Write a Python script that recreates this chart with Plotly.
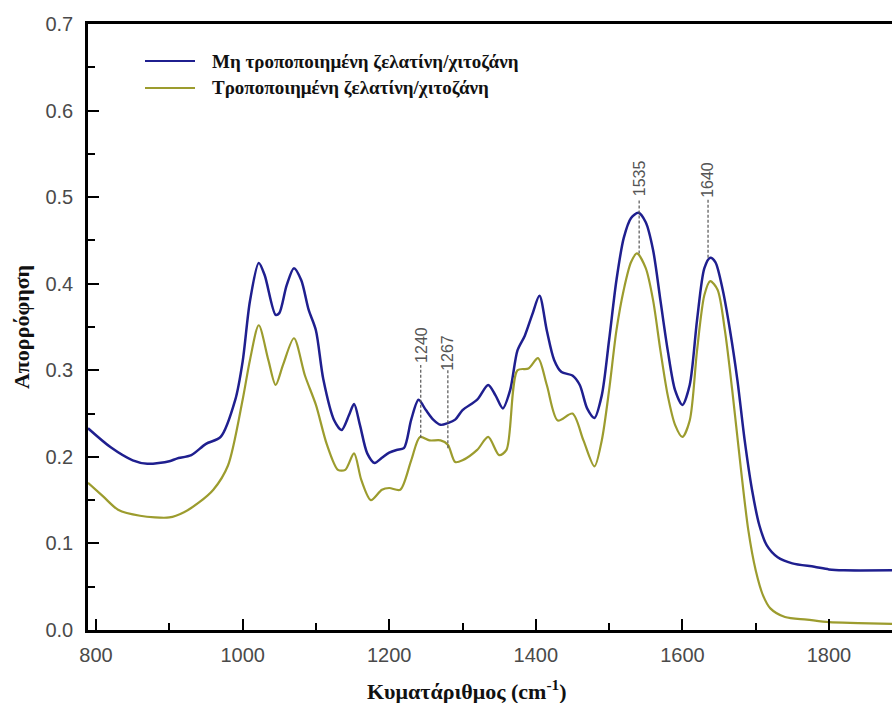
import plotly.graph_objects as go

# Wavenumber (cm-1) and absorbance
x_blue = [789, 820, 850, 870, 900, 910, 930, 950, 970, 990, 1000, 1010, 1022, 1030, 1045, 1050,
          1060, 1070, 1080, 1090, 1100, 1110, 1125, 1135, 1145, 1152, 1160, 1170, 1180, 1190,
          1200, 1210, 1220, 1230, 1240, 1250, 1260, 1270, 1280, 1290, 1300, 1320, 1335, 1345,
          1355, 1365, 1375, 1385, 1395, 1405, 1415, 1425, 1435, 1450, 1460, 1470, 1480, 1490,
          1500, 1510, 1520, 1530, 1540, 1550, 1560, 1570, 1580, 1590, 1600, 1610, 1620, 1630,
          1638, 1645, 1655, 1665, 1675, 1685, 1695, 1705, 1715, 1730, 1750, 1780, 1800, 1820, 1886]
y_blue = [0.233, 0.211, 0.196, 0.192, 0.195, 0.198, 0.202, 0.215, 0.223, 0.266, 0.310, 0.380,
          0.424, 0.410, 0.364, 0.366, 0.398, 0.418, 0.404, 0.370, 0.346, 0.290, 0.242, 0.231,
          0.248, 0.261, 0.237, 0.204, 0.193, 0.199, 0.205, 0.208, 0.210, 0.243, 0.266, 0.254,
          0.243, 0.237, 0.239, 0.243, 0.254, 0.266, 0.283, 0.271, 0.256, 0.277, 0.323, 0.340,
          0.364, 0.386, 0.346, 0.312, 0.298, 0.294, 0.283, 0.256, 0.245, 0.271, 0.335, 0.404,
          0.453, 0.476, 0.482, 0.471, 0.439, 0.381, 0.323, 0.277, 0.260, 0.283, 0.358, 0.418,
          0.430, 0.425, 0.393, 0.346, 0.289, 0.219, 0.162, 0.121, 0.098, 0.084, 0.077, 0.073,
          0.070, 0.069, 0.069]

x_olive = [789, 810, 830, 860, 900, 920, 940, 960, 980, 1000, 1010, 1022, 1035, 1045, 1055, 1070,
           1085, 1100, 1115, 1130, 1140, 1152, 1162, 1175, 1190, 1200, 1215, 1230, 1242, 1255,
           1270, 1280, 1290, 1300, 1320, 1335, 1350, 1360, 1375, 1390, 1403, 1415, 1430, 1450,
           1465, 1480, 1490, 1500, 1510, 1520, 1530, 1538, 1550, 1560, 1570, 1580, 1590, 1600,
           1610, 1620, 1630, 1638, 1648, 1658, 1668, 1680, 1690, 1700, 1710, 1720, 1740, 1770,
           1800, 1840, 1886]
y_olive = [0.170, 0.154, 0.139, 0.132, 0.130, 0.136, 0.147, 0.162, 0.190, 0.266, 0.312, 0.352,
           0.312, 0.283, 0.306, 0.337, 0.294, 0.260, 0.214, 0.185, 0.185, 0.204, 0.173, 0.150,
           0.162, 0.164, 0.162, 0.196, 0.223, 0.219, 0.219, 0.214, 0.194, 0.196, 0.208, 0.223,
           0.202, 0.208, 0.300, 0.302, 0.314, 0.283, 0.242, 0.250, 0.219, 0.189, 0.219, 0.277,
           0.346, 0.393, 0.425, 0.435, 0.418, 0.381, 0.323, 0.271, 0.237, 0.223, 0.242, 0.323,
           0.387, 0.403, 0.393, 0.346, 0.277, 0.185, 0.115, 0.069, 0.040, 0.025, 0.015, 0.012,
           0.009, 0.008, 0.007]

# Peak markers: label, x position, line top, line bottom, label centre
peak_labels = ["1240", "1267", "1535", "1640"]
peak_x = [1243, 1280, 1541, 1635]
peak_top = [0.306, 0.300, 0.497, 0.497]
peak_bottom = [0.222, 0.210, 0.435, 0.430]
label_y = [0.329, 0.320, 0.522, 0.520]

series_names = ["Μη τροποποιημένη ζελατίνη/χιτοζάνη", "Τροποποιημένη ζελατίνη/χιτοζάνη"]
colors = ["#1f1f8f", "#9c9c2e"]

SERIF = "Liberation Serif, Times New Roman, serif"
SANS = "Liberation Sans, Arial, sans-serif"

fig = go.Figure()
fig.add_trace(go.Scatter(x=x_blue, y=y_blue, mode="lines", name=series_names[0], showlegend=False,
                         line=dict(color=colors[0], width=2.5, shape="spline", smoothing=0.8)))
fig.add_trace(go.Scatter(x=x_olive, y=y_olive, mode="lines", name=series_names[1], showlegend=False,
                         line=dict(color=colors[1], width=2.2, shape="spline", smoothing=0.8)))

for lab, px, t, b, ly in zip(peak_labels, peak_x, peak_top, peak_bottom, label_y):
    fig.add_trace(go.Scatter(x=[px, px], y=[b, t], mode="lines", showlegend=False,
                             hoverinfo="skip",
                             line=dict(color="#555555", width=1.2, dash="3px,2px")))
    fig.add_annotation(x=px, y=ly, text=lab, showarrow=False, textangle=-90,
                       font=dict(family=SANS, size=16, color="#555555"))

# Legend drawn as sample lines + text (paper coordinates)
plot_w, plot_h = 804, 606
legend_rows_px = [61, 88]
for name, col, ypx in zip(series_names, colors, legend_rows_px):
    yp = (630 - ypx) / plot_h
    fig.add_shape(type="line", xref="paper", yref="paper",
                  x0=(145 - 88) / plot_w, x1=(195 - 88) / plot_w, y0=yp, y1=yp,
                  line=dict(color=col, width=2))
    fig.add_annotation(xref="paper", yref="paper", x=(210 - 88) / plot_w, y=yp,
                       xanchor="left", yanchor="middle", showarrow=False,
                       text="<b>" + name + "</b>",
                       font=dict(family=SERIF, size=19, color="#111111"))

# x-axis title placed as annotation to match its off-centre position
fig.add_annotation(xref="paper", yref="paper", x=(467 - 88) / plot_w, y=(630 - 690) / plot_h,
                   xanchor="center", yanchor="middle",
                   text="<b>Κυματάριθμος (cm<sup>-1</sup>)</b>", showarrow=False,
                   font=dict(family=SERIF, size=22, color="#111111"))

fig.update_layout(
    width=892, height=703,
    margin=dict(l=88, r=0, t=24, b=73),
    paper_bgcolor="white", plot_bgcolor="white",
    showlegend=False,
    xaxis=dict(range=[789, 1886], tickvals=[800, 1000, 1200, 1400, 1600, 1800],
               ticks="inside", ticklen=11, tickwidth=2, tickcolor="black",
               minor=dict(dtick=100, tick0=800, ticks="inside", ticklen=7, tickwidth=2, tickcolor="black"),
               showline=True, linecolor="black", linewidth=2.5, mirror=True,
               showgrid=False, zeroline=False, ticklabelstandoff=5,
               tickfont=dict(family=SANS, size=20, color="#4a4a4a")),
    yaxis=dict(range=[0, 0.7], tickvals=[0, 0.1, 0.2, 0.3, 0.4, 0.5, 0.6, 0.7],
               ticktext=["0.0", "0.1", "0.2", "0.3", "0.4", "0.5", "0.6", "0.7"],
               ticks="inside", ticklen=11, tickwidth=2, tickcolor="black",
               minor=dict(dtick=0.05, tick0=0, ticks="inside", ticklen=7, tickwidth=2, tickcolor="black"),
               showline=True, linecolor="black", linewidth=2.5,
               showgrid=False, zeroline=False, ticklabelstandoff=8,
               tickfont=dict(family=SANS, size=20, color="#4a4a4a"),
               title=dict(text="<b>Απορρόφηση</b>", standoff=10,
                          font=dict(family=SERIF, size=22, color="#111111"))),
)

fig.write_html("out.html")
